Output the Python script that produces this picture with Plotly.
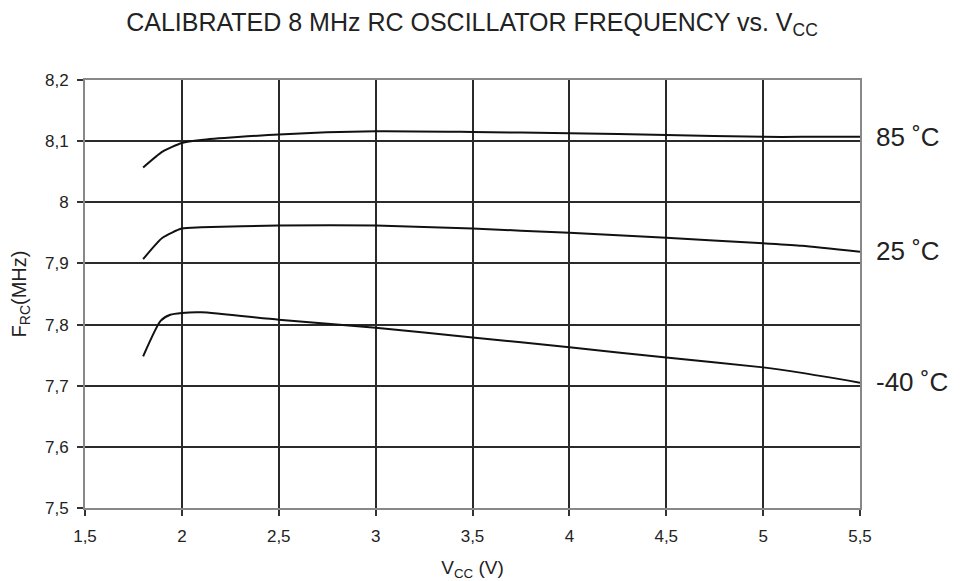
import plotly.graph_objects as go

vcc_85 = [1.8, 1.9, 2.0, 2.1, 2.5, 3.0, 3.5, 4.0, 4.5, 5.0, 5.2, 5.5]
f_85 = [8.057, 8.083, 8.097, 8.102, 8.111, 8.116, 8.115, 8.113, 8.110, 8.107, 8.107, 8.107]

vcc_25 = [1.8, 1.9, 2.0, 2.1, 2.5, 3.0, 3.5, 4.0, 4.5, 5.0, 5.2, 5.5]
f_25 = [7.907, 7.942, 7.957, 7.959, 7.962, 7.962, 7.957, 7.950, 7.942, 7.933, 7.929, 7.919]

vcc_m40 = [1.8, 1.89, 1.94, 2.0, 2.1, 2.5, 3.0, 3.5, 4.0, 4.5, 5.0, 5.2, 5.5]
f_m40 = [7.748, 7.806, 7.816, 7.819, 7.820, 7.808, 7.795, 7.779, 7.763, 7.746, 7.730, 7.721, 7.705]

series_labels = ["85 ˚C", "25 ˚C", "-40 ˚C"]
label_y = [8.107, 7.921, 7.706]

x_ticks = [1.5, 2, 2.5, 3, 3.5, 4, 4.5, 5, 5.5]
x_ticktext = ["1,5", "2", "2,5", "3", "3,5", "4", "4,5", "5", "5,5"]
y_ticks = [7.5, 7.6, 7.7, 7.8, 7.9, 8.0, 8.1, 8.2]
y_ticktext = ["7,5", "7,6", "7,7", "7,8", "7,9", "8", "8,1", "8,2"]

font_family = "Liberation Sans, Arial, sans-serif"

# the page body has an 8px default margin; the figure is sized to fill the rest of the window
W, H = 958, 573

fig = go.Figure()
for xs, ys, name in [(vcc_85, f_85, series_labels[0]), (vcc_25, f_25, series_labels[1]), (vcc_m40, f_m40, series_labels[2])]:
    fig.add_trace(go.Scatter(x=xs, y=ys, mode="lines", name=name,
                             line=dict(color="#111111", width=2, shape="spline", smoothing=0.6),
                             showlegend=False, hoverinfo="skip"))

for txt, yv in zip(series_labels, label_y):
    fig.add_annotation(x=1, xref="paper", y=yv, yref="y", text=txt, showarrow=False,
                       xanchor="left", xshift=14, font=dict(size=26, color="#222222", family=font_family))

fig.update_layout(
    width=W, height=H,
    margin=dict(l=77, r=106, t=72, b=73, autoexpand=False),
    paper_bgcolor="white", plot_bgcolor="white",
    font=dict(family=font_family, color="#222222", size=16),
    title=dict(text="CALIBRATED 8 MHz RC OSCILLATOR FREQUENCY vs. V<sub>CC</sub>",
               x=(472 - 8) / W, xanchor="center", y=1 - 14 / H, yanchor="middle",
               font=dict(size=25, family=font_family, color="#222222")),
)
fig.update_xaxes(range=[1.5, 5.5], tickvals=x_ticks, ticktext=x_ticktext, automargin=False,
                 showgrid=True, gridcolor="#2a2a2a", gridwidth=2,
                 showline=True, linecolor="#888888", linewidth=2, mirror=True,
                 ticks="outside", ticklen=6, tickcolor="#333333", tickwidth=1.5,
                 zeroline=False, tickfont=dict(size=17), ticklabelstandoff=6,
                 title=dict(text="V<sub>CC</sub> (V)", standoff=15, font=dict(size=19)))
fig.update_yaxes(range=[7.5, 8.2], tickvals=y_ticks, ticktext=y_ticktext, automargin=False,
                 showgrid=True, gridcolor="#2a2a2a", gridwidth=2,
                 showline=True, linecolor="#888888", linewidth=2, mirror=True,
                 ticks="outside", ticklen=6, tickcolor="#333333", tickwidth=1.5,
                 zeroline=False, tickfont=dict(size=17), ticklabelstandoff=5,
                 title=dict(text="F<sub>RC</sub>(MHz)", standoff=21, font=dict(size=20)))

fig.write_html("out.html")
